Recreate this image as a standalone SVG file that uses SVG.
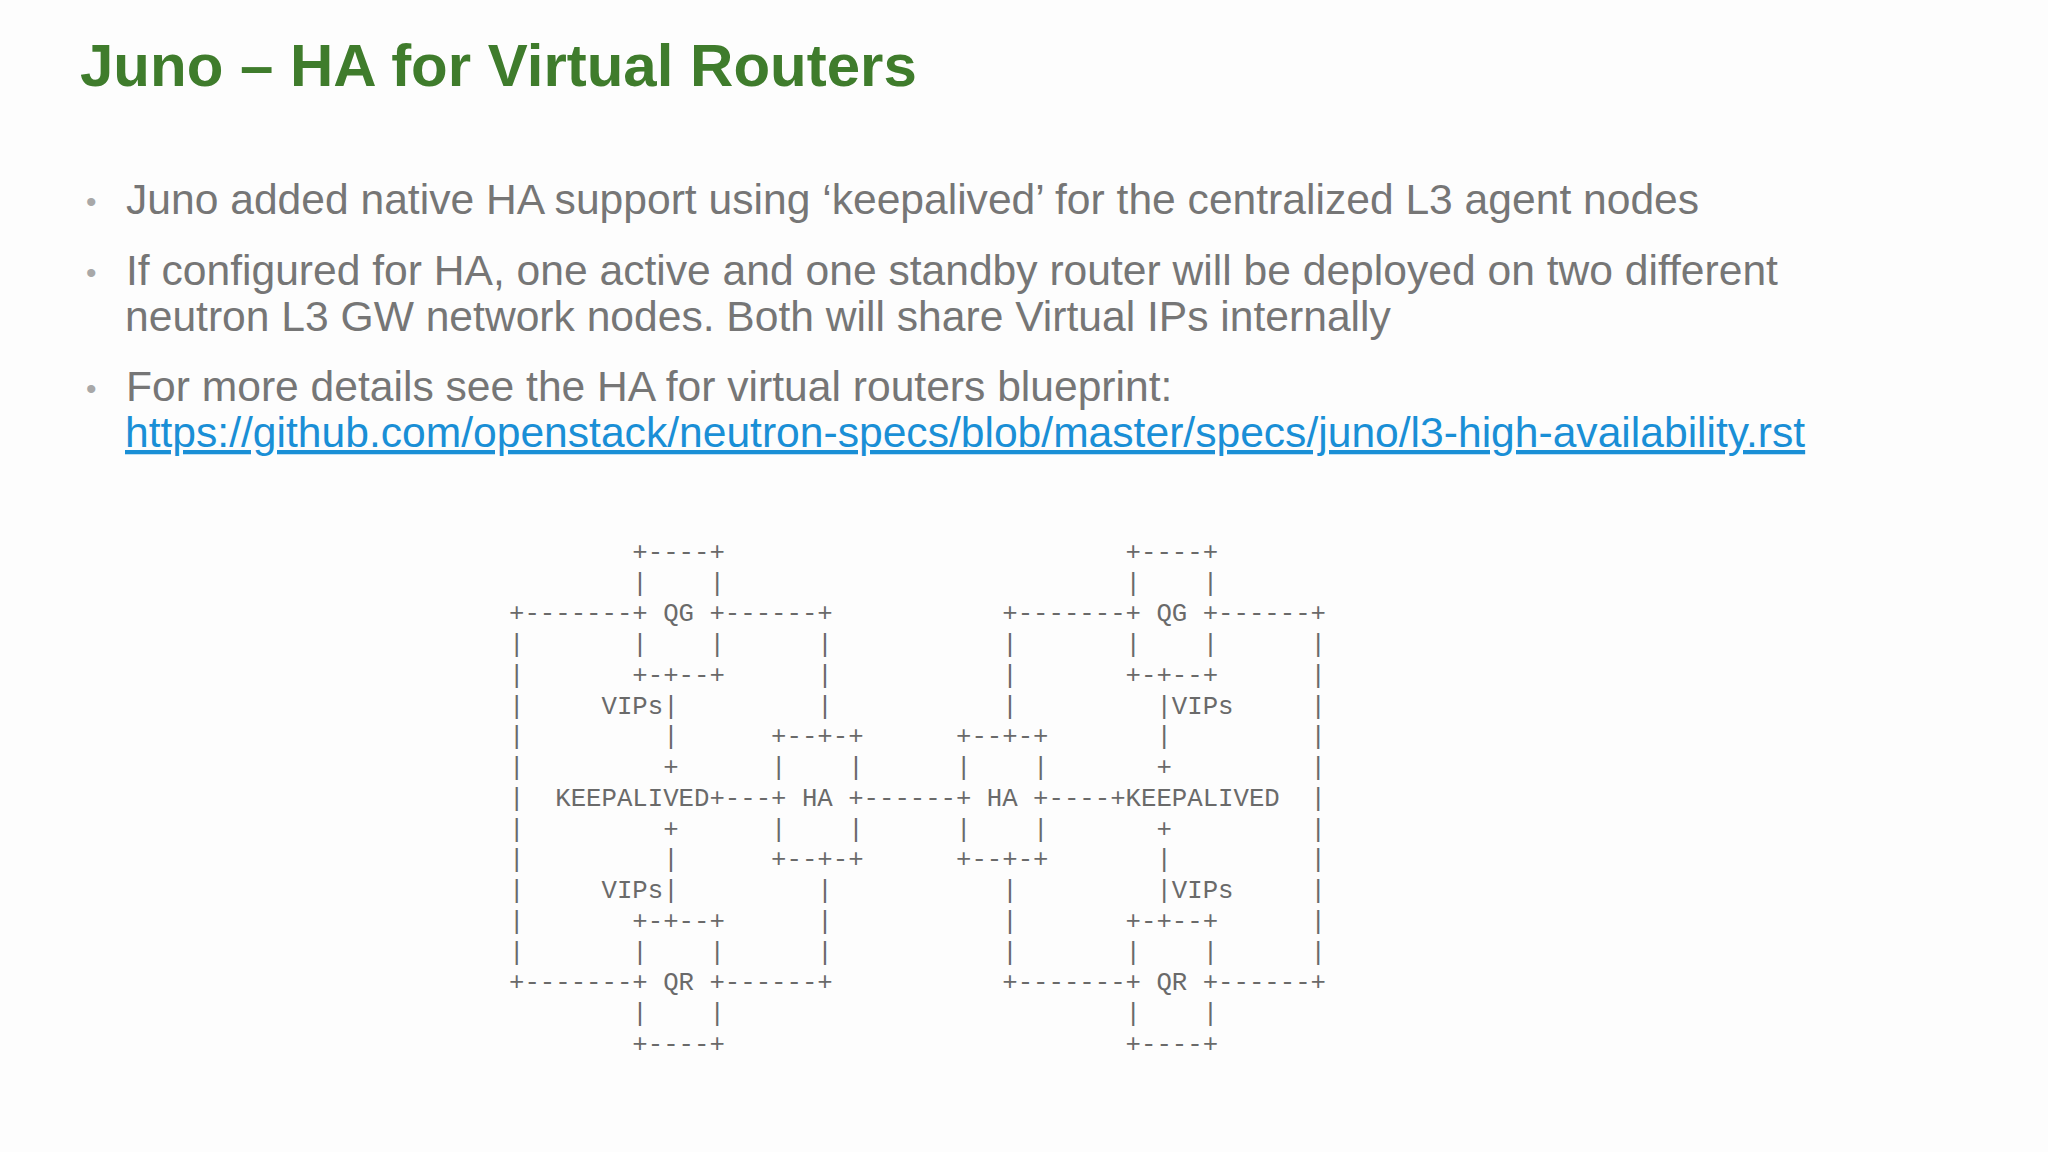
<svg xmlns="http://www.w3.org/2000/svg" width="2048" height="1152" viewBox="0 0 2048 1152">
<style>
.t{font-family:"Liberation Sans",Arial,sans-serif;font-size:42.6px;fill:#767676}
.b{font-family:"Liberation Sans",Arial,sans-serif;font-size:30px;fill:#a8a8a8}
.a{font-family:"Liberation Mono","Courier New",monospace;font-size:25.7px;fill:#6a6a6a;white-space:pre}
</style>
<rect width="2048" height="1152" fill="#fdfdfd"/>
<text x="80" y="86" font-family="Liberation Sans,Arial,sans-serif" font-size="60" font-weight="bold" fill="#3f7c2c">Juno – HA for Virtual Routers</text>
<g id="bullets">
<text class="b" x="86" y="212">•</text>
<text class="t" x="126" y="214">Juno added native HA support using ‘keepalived’ for the centralized L3 agent nodes</text>
<text class="b" x="86" y="283">•</text>
<text class="t" x="126" y="285">If configured for HA, one active and one standby router will be deployed on two different</text>
<text class="t" x="125" y="331">neutron L3 GW network nodes. Both will share Virtual IPs internally</text>
<text class="b" x="86" y="399">•</text>
<text class="t" x="126" y="401">For more details see the HA for virtual routers blueprint:</text>
<text class="t" x="125" y="447" text-decoration="underline" style="fill:#1a8fd6">https://github.com/openstack/neutron-specs/blob/master/specs/juno/l3-high-availability.rst</text>
</g>
<g id="ascii" class="a" xml:space="preserve">
<text class="a" x="509" y="560">        +----+                          +----+</text>
<text class="a" x="509" y="591">        |    |                          |    |</text>
<text class="a" x="509" y="621">+-------+ QG +------+           +-------+ QG +------+</text>
<text class="a" x="509" y="652">|       |    |      |           |       |    |      |</text>
<text class="a" x="509" y="683">|       +-+--+      |           |       +-+--+      |</text>
<text class="a" x="509" y="714">|     VIPs|         |           |         |VIPs     |</text>
<text class="a" x="509" y="744">|         |      +--+-+      +--+-+       |         |</text>
<text class="a" x="509" y="775">|         +      |    |      |    |       +         |</text>
<text class="a" x="509" y="806">|  KEEPALIVED+---+ HA +------+ HA +----+KEEPALIVED  |</text>
<text class="a" x="509" y="837">|         +      |    |      |    |       +         |</text>
<text class="a" x="509" y="867">|         |      +--+-+      +--+-+       |         |</text>
<text class="a" x="509" y="898">|     VIPs|         |           |         |VIPs     |</text>
<text class="a" x="509" y="929">|       +-+--+      |           |       +-+--+      |</text>
<text class="a" x="509" y="960">|       |    |      |           |       |    |      |</text>
<text class="a" x="509" y="990">+-------+ QR +------+           +-------+ QR +------+</text>
<text class="a" x="509" y="1021">        |    |                          |    |</text>
<text class="a" x="509" y="1052">        +----+                          +----+</text>
</g>
</svg>
